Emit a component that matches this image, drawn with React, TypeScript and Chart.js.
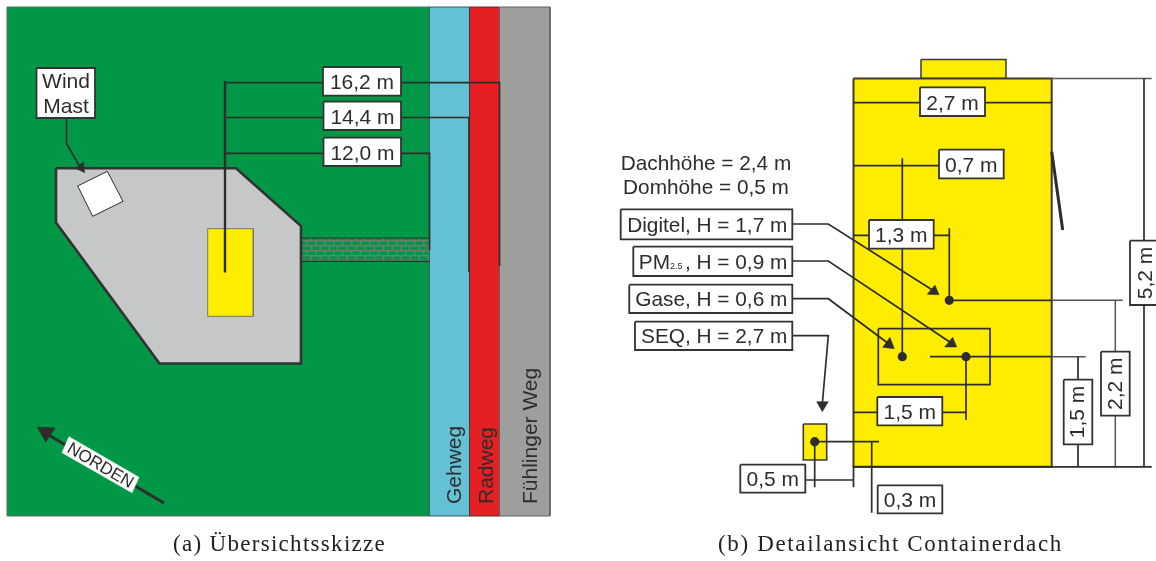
import React, { useEffect, useRef } from "react";
import { Chart, registerables } from "chart.js";

Chart.register(...registerables);

type Pt = [number, number];

// ---- colours
const GREEN = "#009846";
const CYAN = "#64C1D3";
const RED = "#E52025";
const ROAD = "#9E9E9D";
const CONCRETE = "#C6C8C8";
const YELLOW = "#FFED00";
const INK = "#2E2D2C";
const SOFT = "#565656";

// ---- left panel, areas
const lawn: Pt[] = [[7, 7], [429.5, 7], [429.5, 516], [7, 516], [7, 7]];
const gehweg: Pt[] = [[429.5, 7], [469.5, 7], [469.5, 516], [429.5, 516], [429.5, 7]];
const radweg: Pt[] = [[469.5, 7], [499.5, 7], [499.5, 516], [469.5, 516], [469.5, 7]];
const fahrweg: Pt[] = [[499.5, 7], [550, 7], [550, 516], [499.5, 516], [499.5, 7]];
const site: Pt[] = [[56, 168.3], [236, 168.3], [301, 226], [301, 363.5], [159.5, 363.5], [56, 222.5], [56, 168.3]];
const mast: Pt[] = [[77.7, 186], [107.3, 171.3], [123, 201.3], [92.7, 216.3], [77.7, 186]];
const container: Pt[] = [[207.7, 228.7], [253.3, 228.7], [253.3, 316.3], [207.7, 316.3], [207.7, 228.7]];
const path: Pt[] = [[302, 238], [429, 238], [429, 261], [302, 261], [302, 238]];

// ---- left panel, lines
const pathEdgeTop: Pt[] = [[301, 238], [429.5, 238]];
const pathEdgeBottom: Pt[] = [[301, 261.3], [429.5, 261.3]];
const dim162: Pt[] = [[225, 82.7], [499.5, 82.7], [499.5, 266]];
const dim144: Pt[] = [[225, 117.5], [469, 117.5], [469, 272]];
const dim120: Pt[] = [[225, 153.3], [429.5, 153.3], [429.5, 250]];
const dimStem: Pt[] = [[225, 81], [225, 272.5]];
const mastLeader: Pt[] = [[66.5, 118], [66.5, 143.3], [80, 167]];
const mastHead: Pt[] = [[84.7, 172.7], [75.5, 168.3], [83.3, 162], [84.7, 172.7]];
const northShaft: Pt[] = [[164, 503], [47, 434]];
const northHead: Pt[] = [[37.3, 427], [55, 428], [45.7, 442.3], [37.3, 427]];
const northPlate: Pt[] = [[69, 436.7], [139, 477.3], [132, 492.7], [62, 452.7], [69, 436.7]];

// ---- right panel, areas
const roof: Pt[] = [[853.5, 78.5], [1051.7, 78.5], [1051.7, 466.8], [853.5, 466.8], [853.5, 78.5]];
const dome: Pt[] = [[921, 59.5], [1006, 59.5], [1006, 78.5], [921, 78.5], [921, 59.5]];
const seqBox: Pt[] = [[803.3, 424], [826.7, 424], [826.7, 460], [803.3, 460], [803.3, 424]];
const frame: Pt[] = [[878.3, 328.7], [990, 328.7], [990, 384.7], [878.3, 384.7], [878.3, 328.7]];

// ---- right panel, lines
const hatch: Pt[] = [[1051.7, 151.7], [1062.7, 230]];
const outerLines: Pt[][] = [
  [[1051, 78.5], [1151.7, 78.5]],
  [[1051.7, 300.3], [1122.7, 300.3]],
  [[1051.7, 356.7], [1085.7, 356.7]],
  [[1115.3, 300.3], [1115.3, 466.8]],
];
const lines: Pt[][] = [
  [[853, 466.8], [1151.7, 466.8]],
  [[1144, 78.5], [1144, 466.8]],
  [[853.5, 102.7], [1051.7, 102.7]],
  [[853.5, 165.7], [939, 165.7]],
  [[902.3, 158.3], [902.3, 356.7]],
  [[853.5, 235.3], [949.3, 235.3]],
  [[949.3, 228.3], [949.3, 300.3]],
  [[949.3, 300.3], [1051.7, 300.3]],
  [[930, 356.7], [1051.7, 356.7]],
  [[1078, 356.7], [1078, 466.8]],
  [[853.5, 412.3], [966, 412.3]],
  [[966, 356.7], [966, 420]],
  [[814.7, 441.7], [879, 441.7]],
  [[814.7, 441.7], [814.7, 487.3]],
  [[871.7, 441.7], [871.7, 512.7]],
  [[805, 480], [853.5, 480]],
  [[853.5, 466], [853.5, 487.3]],
  [[792, 224], [828.3, 224], [934, 291]],
  [[792, 261], [828.3, 261], [952, 343.5]],
  [[792, 298.7], [828.3, 298.7], [889, 344]],
  [[792, 335.7], [828.3, 335.7], [822.3, 404]],
];
const arrowHeads: Pt[][] = [
  [[939, 294.7], [927.3, 294.3], [935, 285], [939, 294.7]],
  [[956.7, 347], [944.7, 347], [952.7, 337.3], [956.7, 347]],
  [[894.3, 348.7], [882.7, 347.3], [890, 337.3], [894.3, 348.7]],
  [[822.3, 411.7], [816.7, 401.7], [828.3, 401.7], [822.3, 411.7]],
];
const sensors: Pt[] = [[949.3, 300.3], [902.3, 356.7], [966, 356.7], [814.7, 441.7]];

// ---- label frames: left, top, right, bottom
const frames: number[][] = [
  [36.5, 68, 95, 118],
  [323, 67, 401, 95.7],
  [323.5, 101.7, 401, 130],
  [323.5, 137.7, 401, 166],
  [920, 87.3, 985, 116],
  [939, 149.7, 1003.7, 178.3],
  [869, 220, 933.7, 248.7],
  [620.7, 209.3, 792.3, 239.3],
  [633.3, 246.7, 792.3, 276],
  [629.3, 284.7, 792.3, 313],
  [635, 321.7, 792.3, 350],
  [877.3, 397, 942.3, 425.3],
  [740.3, 464.7, 805.3, 492.7],
  [877.7, 485.3, 942.3, 513.3],
  [1063.7, 379.7, 1092.3, 444.3],
  [1101, 351.7, 1129.7, 415.7],
  [1130, 240.7, 1160, 305],
];

// ---- texts: string, x, baseline y, align, rotation, size
type T = [string, number, number, CanvasTextAlign, number, number];
const texts: T[] = [
  ["Wind", 66, 88.3, "center", 0, 21],
  ["Mast", 66, 113.3, "center", 0, 21],
  ["16,2 m", 362, 89.3, "center", 0, 21],
  ["14,4 m", 362.5, 124, "center", 0, 21],
  ["12,0 m", 362.5, 160, "center", 0, 21],
  ["Gehweg", 461, 504, "left", -90, 21],
  ["Radweg", 492.7, 504, "left", -90, 21],
  ["Fühlinger Weg", 536.7, 504, "left", -90, 21],
  ["NORDEN", 97.8, 470, "center", 30.2, 17],
  ["Dachhöhe = 2,4 m", 706, 170, "center", 0, 20.8],
  ["Domhöhe = 0,5 m", 706, 194.3, "center", 0, 20.8],
  ["2,7 m", 952.5, 109.5, "center", 0, 21],
  ["0,7 m", 971.3, 172, "center", 0, 21],
  ["1,3 m", 901.3, 242.3, "center", 0, 21],
  ["Digitel, H = 1,7 m", 787.3, 231.5, "right", 0, 20.8],
  ["PM", 670, 269, "right", 0, 20.8],
  ["2.5", 670, 269, "left", 0, 9],
  [", H = 0,9 m", 787.3, 269, "right", 0, 20.8],
  ["Gase, H = 0,6 m", 787.3, 306, "right", 0, 20.8],
  ["SEQ, H = 2,7 m", 787.3, 343, "right", 0, 20.8],
  ["1,5 m", 909.8, 419, "center", 0, 21],
  ["0,5 m", 772.8, 486, "center", 0, 21],
  ["0,3 m", 910, 506.5, "center", 0, 21],
  ["1,5 m", 1083.5, 412, "center", -90, 21],
  ["2,2 m", 1122, 383.7, "center", -90, 21],
  ["5,2 m", 1151.5, 273, "center", -90, 21],
];
const captions: [string, number, number, string][] = [
  ["(a) Übersichtsskizze", 173, 551, "1.3px"],
  ["(b) Detailansicht Containerdach", 718, 551, "1.65px"],
];

function brickPattern(): CanvasPattern | string {
  const c = document.createElement("canvas");
  c.width = 18;
  c.height = 10;
  const g = c.getContext("2d");
  if (!g) return GREEN;
  g.fillStyle = GREEN;
  g.fillRect(0, 0, 18, 10);
  g.fillStyle = "#6F7C74";
  g.fillRect(0, 0, 18, 1.4);
  g.fillRect(0, 5, 18, 1.4);
  g.fillRect(0, 0, 1.4, 5);
  g.fillRect(9, 0, 1.4, 5);
  g.fillRect(4.5, 5, 1.4, 5);
  g.fillRect(13.5, 5, 1.4, 5);
  return g.createPattern(c, "repeat") ?? GREEN;
}

const toXY = (pts: Pt[]) => pts.map(([x, y]) => ({ x, y }));

const textPlugin = {
  id: "diagramText",
  afterDatasetsDraw(chart: any) {
    const { ctx, scales } = chart;
    ctx.save();
    ctx.fillStyle = INK;
    ctx.textBaseline = "alphabetic";
    for (const [s, x, y, align, rot, size] of texts) {
      ctx.save();
      ctx.translate(scales.x.getPixelForValue(x), scales.y.getPixelForValue(y));
      ctx.rotate((rot * Math.PI) / 180);
      ctx.textAlign = align;
      ctx.font = `${size}px "Liberation Sans"`;
      ctx.fillText(s, 0, 0);
      ctx.restore();
    }
    ctx.fillStyle = "#222";
    ctx.textAlign = "left";
    ctx.font = '23px "Liberation Serif"';
    for (const [s, x, y, gap] of captions) {
      (ctx as any).letterSpacing = gap;
      ctx.fillText(s, scales.x.getPixelForValue(x), scales.y.getPixelForValue(y));
    }
    ctx.restore();
  },
};

export default function App() {
  const ref = useRef<HTMLCanvasElement>(null);
  useEffect(() => {
    if (!ref.current) return;
    const area = (pts: Pt[], fill: any, edge = SOFT, w = 1) => ({
      data: toXY(pts),
      showLine: true,
      fill: "shape",
      backgroundColor: fill,
      borderColor: edge,
      borderWidth: w,
      pointRadius: 0,
      tension: 0,
      clip: false,
      borderJoinStyle: "miter",
    });
    const line = (pts: Pt[], w = 1.7, color = INK) => ({
      data: toXY(pts),
      showLine: true,
      fill: false,
      borderColor: color,
      borderWidth: w,
      pointRadius: 0,
      tension: 0,
      clip: false,
      borderJoinStyle: "miter",
    });
    const head = (pts: Pt[]) => area(pts, INK, INK, 0.5);
    const paint: any[] = [
      area(lawn, GREEN, "#5f6b62", 1),
      area(gehweg, CYAN, "#3f5a60", 1),
      area(radweg, RED, "#40393a", 1),
      area(fahrweg, ROAD, "#606060", 1),
      area(path, brickPattern(), "rgba(0,0,0,0)", 0),
      line(pathEdgeTop, 1.2),
      line(pathEdgeBottom, 1.2),
      area(site, CONCRETE, "#333333", 2.6),
      area(mast, "#FFFFFF", INK, 1),
      area(container, YELLOW, "#77776a", 1),
      line(dim162),
      line(dim144),
      line(dim120),
      line(dimStem, 2.4),
      line(mastLeader),
      head(mastHead),
      line(northShaft, 3),
      head(northHead),
      area(northPlate, "#FFFFFF", "#FFFFFF", 0.5),
      area(dome, YELLOW, "#3a3a3a", 1.5),
      area(roof, YELLOW, "#3a3a3a", 2),
      area(seqBox, YELLOW, "#3a3a3a", 1.6),
      line(frame, 1.7),
      line(hatch, 3),
      ...outerLines.map((l) => line(l, 1.5, SOFT)),
      ...lines.map((l) => line(l)),
      ...arrowHeads.map(head),
      {
        data: toXY(sensors),
        showLine: false,
        pointRadius: 4.6,
        pointBackgroundColor: INK,
        pointBorderWidth: 0,
        clip: false,
      },
      ...frames.map(([a, b, c, d]) =>
        area([[a, b], [c, b], [c, d], [a, d], [a, b]], "#FFFFFF", "#333333", 1.8),
      ),
    ];
    const chart = new Chart(ref.current, {
      type: "scatter",
      data: { datasets: paint.slice().reverse() },
      options: {
        animation: false,
        responsive: false,
        layout: { padding: 0, autoPadding: false },
        plugins: { legend: { display: false }, tooltip: { enabled: false } },
        events: [],
        scales: {
          x: { type: "linear", min: 0, max: 1156, display: false },
          y: { type: "linear", min: 0, max: 561, reverse: true, display: false },
        },
      },
      plugins: [textPlugin],
    } as any);
    return () => chart.destroy();
  }, []);
  return (
    <div style={{ position: "absolute", left: 0, top: 0, width: 1156, height: 561, background: "#fff" }}>
      <canvas ref={ref} width={1156} height={561} style={{ display: "block" }} />
    </div>
  );
}
